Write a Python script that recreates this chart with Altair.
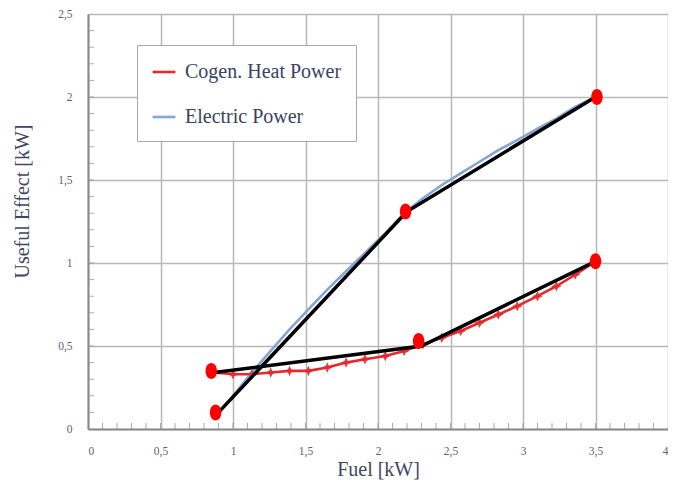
import altair as alt
import pandas as pd

# --- data ---
fuel = [0.87, 1.0, 1.13, 1.26, 1.39, 1.52, 1.65, 1.78, 1.91, 2.05, 2.18,
        2.31, 2.44, 2.57, 2.70, 2.83, 2.96, 3.10, 3.23, 3.36, 3.50]
heat = [0.34, 0.33, 0.33, 0.34, 0.35, 0.35, 0.37, 0.40, 0.42, 0.44, 0.47,
        0.51, 0.55, 0.59, 0.64, 0.69, 0.74, 0.80, 0.86, 0.93, 1.01]
fuel_el = [0.90, 1.0, 1.13, 1.26, 1.39, 1.52, 1.65, 1.78, 1.91, 2.05, 2.18,
           2.31, 2.44, 2.57, 2.70, 2.83, 2.96, 3.10, 3.23, 3.36, 3.50]
electric = [0.10, 0.20, 0.34, 0.47, 0.60, 0.72, 0.84, 0.95, 1.06, 1.18, 1.30,
            1.39, 1.47, 1.54, 1.61, 1.68, 1.74, 1.81, 1.87, 1.94, 2.00]

# piecewise-linear approximations (black)
approx_el_x = [0.90, 2.20, 3.50]
approx_el_y = [0.10, 1.31, 2.00]
approx_heat_x = [0.87, 2.30, 3.50]
approx_heat_y = [0.34, 0.50, 1.01]

# big red breakpoints
dots_x = [0.88, 2.19, 3.51, 0.85, 2.28, 3.50]
dots_y = [0.10, 1.31, 2.00, 0.35, 0.53, 1.01]

x_ticks = [0, 0.5, 1, 1.5, 2, 2.5, 3, 3.5, 4]
y_ticks = [0, 0.5, 1, 1.5, 2, 2.5]
minor_x = [round(i * 0.1, 1) for i in range(1, 40)]
minor_y = [round(i * 0.1, 1) for i in range(1, 25)]

series_names = ["Cogen. Heat Power", "Electric Power"]
RED = "#e8282d"
BLUE = "#86a3d4"
FONT = "Liberation Serif"

curves = pd.DataFrame(
    {"fuel": fuel + fuel_el,
     "value": heat + electric,
     "series": [series_names[0]] * len(fuel) + [series_names[1]] * len(fuel_el),
     "order": list(range(len(fuel))) + list(range(len(fuel_el)))}
)
heat_df = pd.DataFrame({"fuel": fuel, "value": heat})
approx = pd.DataFrame(
    {"fuel": approx_el_x + approx_heat_x,
     "value": approx_el_y + approx_heat_y,
     "grp": ["el"] * 3 + ["heat"] * 3,
     "order": [0, 1, 2, 0, 1, 2]}
)
dots = pd.DataFrame({"fuel": dots_x, "value": dots_y})
mx = pd.DataFrame({"m": minor_x})
my = pd.DataFrame({"m": minor_y})

lab = "replace(toString(datum.value), '.', ',')"

xscale = alt.Scale(domain=[0, 4], nice=False, zero=False)
yscale = alt.Scale(domain=[0, 2.5], nice=False, zero=False)

xaxis = alt.Axis(values=x_ticks, labelExpr=lab, title="Fuel [kW]", grid=True,
                 gridColor="#b8b8b8", gridWidth=1.5, domainColor="#8a8a8a",
                 domainWidth=2, ticks=False, labelPadding=16, labelFont=FONT,
                 labelFontSize=11.5, labelColor="#6a5a78", titleFont=FONT,
                 titleFontSize=20, titleFontWeight="normal", titleColor="#3f4662",
                 titleY=46, titleBaseline="alphabetic")
yaxis = alt.Axis(values=y_ticks, labelExpr=lab, title="Useful Effect [kW]", grid=True,
                 gridColor="#b8b8b8", gridWidth=1.5, domainColor="#8a8a8a",
                 domainWidth=2, ticks=False, labelPadding=16, labelFont=FONT,
                 labelFontSize=11.5, labelColor="#6a5a78", titleFont=FONT,
                 titleFontSize=20, titleFontWeight="normal", titleColor="#3f4662",
                 titleX=-66, titleY=187, titleAngle=-90, titleAlign="center",
                 titleBaseline="middle")

base_lines = alt.Chart(curves).mark_line(strokeWidth=2.6).encode(
    x=alt.X("fuel:Q", scale=xscale, axis=xaxis),
    y=alt.Y("value:Q", scale=yscale, axis=yaxis),
    color=alt.Color("series:N",
                    scale=alt.Scale(domain=series_names, range=[RED, BLUE]),
                    legend=alt.Legend(title=None, orient="none", legendX=49, legendY=31,
                                      direction="vertical", fillColor="white",
                                      strokeColor="#a8a8a8", padding=14,
                                      symbolType="stroke", symbolSize=520,
                                      symbolStrokeWidth=2.6, labelFont=FONT,
                                      labelFontSize=20, labelColor="#3a4262",
                                      rowPadding=22, labelOffset=8)),
    order="order:Q",
)

star = "M0,-1L0.32,-0.32L1,0L0.32,0.32L0,1L-0.32,0.32L-1,0L-0.32,-0.32Z"
markers = alt.Chart(heat_df).mark_point(shape=star, filled=True, size=110,
                                        color=RED, opacity=0.9).encode(
    x=alt.X("fuel:Q", scale=xscale), y=alt.Y("value:Q", scale=yscale))

black = alt.Chart(approx).mark_line(color="black", strokeWidth=3.5).encode(
    x=alt.X("fuel:Q", scale=xscale), y=alt.Y("value:Q", scale=yscale),
    detail="grp:N", order="order:Q")

ellipse = "M0,-1A0.72,1 0 1,1 0,1A0.72,1 0 1,1 0,-1Z"
bigdots = alt.Chart(dots).mark_point(shape=ellipse, filled=True, size=256,
                                     color="#ff0000", opacity=1).encode(
    x=alt.X("fuel:Q", scale=xscale), y=alt.Y("value:Q", scale=yscale))

xminor = alt.Chart(mx).mark_tick(orient="vertical", color="#8a8a8a", size=6,
                                 thickness=1).encode(
    x=alt.X("m:Q", scale=xscale), y=alt.Y(datum=0, scale=yscale),
    yOffset=alt.value(-3))
yminor = alt.Chart(my).mark_tick(orient="horizontal", color="#8a8a8a", size=6,
                                 thickness=1).encode(
    y=alt.Y("m:Q", scale=yscale), x=alt.X(datum=0, scale=xscale),
    xOffset=alt.value(3))

chart = alt.layer(xminor, yminor, base_lines, markers, black, bigdots).properties(
    width=580, height=415,
    autosize=alt.AutoSizeParams(type="none"),
    padding={"left": 80, "top": 6, "right": 0, "bottom": 52},
).configure_view(stroke=None).configure(background="white")

chart.save("out.html", embed_options={"renderer": "svg", "actions": False})
